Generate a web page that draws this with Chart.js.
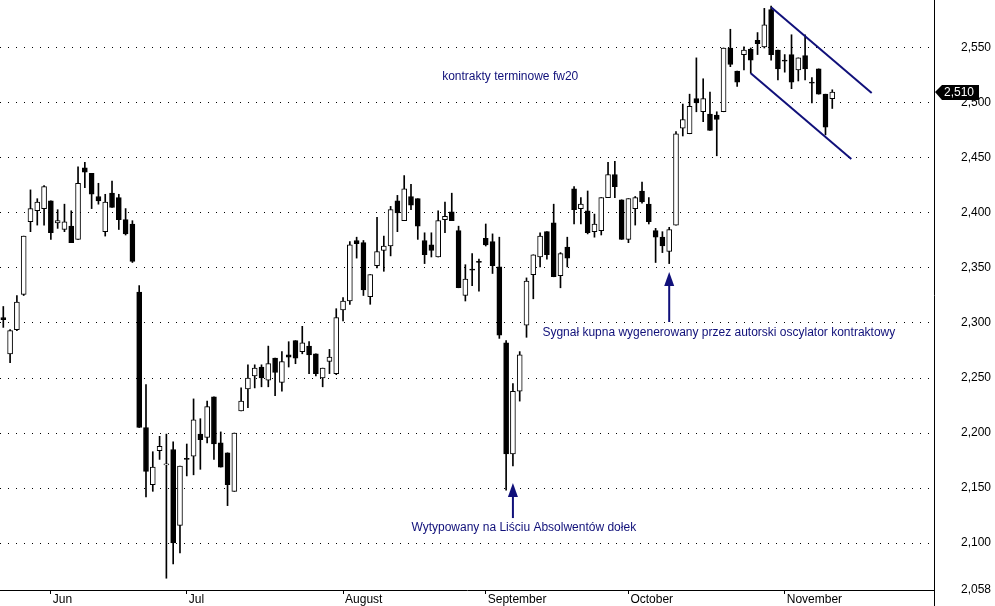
<!DOCTYPE html>
<html>
<head>
<meta charset="utf-8">
<script src="https://cdn.jsdelivr.net/npm/chart.js@4.4.0/dist/chart.umd.min.js"></script>
<style>
  html, body { margin: 0; padding: 0; background: #fff; }
</style>
</head>
<body>
<canvas id="chart" width="995" height="606"></canvas>
<script>
// dzienne świece fw20 (czerwiec - listopad)
const opens = [2305,2272,2294,2326,2392,2402,2404,2411,2391,2385,2388,2376,2441,2436,2415,2383,2418,2414,2394,2390,
  2328,2205,2153,2184,2171,2185,2116,2177,2179,2199,2196,2233,2191,2182,2147,2220,2240,2252,2260,2248,
  2268,2246,2271,2284,2274,2279,2272,2250,2265,2254,2312,2320,2375,2373,2324,2352,2366,2370,2411,2393,
  2415,2413,2375,2371,2360,2394,2401,2384,2325,2349,2356,2377,2374,2351,2282,2181,2238,2298,2344,2360,
  2383,2391,2343,2369,2422,2404,2402,2383,2384,2414,2435,2412,2376,2404,2420,2408,2384,2378,2365,2389,
  2477,2472,2504,2492,2490,2489,2492,2550,2529,2544,2549,2557,2551,2585,2548,2539,2544,2530,2543,2519,
  2531,2508,2504];
const highs = [2315,2294,2325,2379,2421,2413,2425,2411,2403,2408,2402,2442,2446,2436,2427,2417,2429,2417,2404,2393,
  2334,2244,2183,2197,2199,2192,2170,2190,2231,2213,2229,2233,2201,2182,2200,2241,2262,2262,2262,2279,
  2268,2274,2283,2284,2297,2283,2272,2259,2276,2313,2323,2374,2378,2375,2344,2396,2379,2406,2416,2434,
  2426,2413,2382,2382,2402,2410,2418,2388,2353,2363,2358,2390,2381,2378,2284,2245,2274,2341,2362,2382,
  2383,2408,2364,2378,2424,2414,2420,2399,2414,2446,2447,2412,2413,2415,2428,2414,2386,2383,2387,2474,
  2499,2508,2541,2522,2510,2492,2550,2567,2529,2551,2550,2564,2586,2588,2548,2544,2562,2541,2562,2523,
  2531,2508,2512];
const lows = [2296,2264,2293,2325,2383,2389,2389,2376,2386,2383,2373,2376,2423,2404,2408,2379,2405,2385,2380,2355,
  2205,2142,2147,2176,2068,2081,2091,2161,2162,2167,2191,2176,2169,2134,2147,2220,2223,2241,2242,2242,
  2234,2238,2260,2263,2272,2254,2252,2242,2254,2253,2302,2317,2359,2325,2317,2350,2347,2361,2383,2393,
  2403,2376,2354,2360,2360,2382,2393,2332,2320,2334,2329,2370,2345,2286,2148,2170,2229,2287,2322,2351,
  2358,2342,2332,2351,2390,2390,2381,2378,2380,2414,2414,2376,2373,2389,2409,2390,2355,2364,2354,2389,
  2470,2472,2492,2483,2475,2452,2492,2533,2515,2530,2527,2544,2550,2539,2521,2528,2513,2520,2521,2500,
  2508,2471,2495];
const closes = [2303,2293,2319,2379,2404,2410,2424,2382,2393,2392,2373,2427,2437,2417,2411,2410,2405,2394,2381,2356,
  2205,2165,2169,2188,2172,2100,2170,2176,2212,2194,2224,2190,2169,2153,2200,2229,2250,2259,2250,2263,
  2255,2265,2269,2268,2282,2271,2254,2259,2269,2305,2320,2371,2372,2330,2344,2365,2370,2403,2400,2422,
  2407,2388,2362,2366,2393,2397,2393,2332,2340,2348,2355,2371,2352,2289,2181,2238,2271,2338,2362,2379,
  2362,2342,2363,2359,2403,2408,2382,2390,2414,2435,2424,2376,2413,2414,2410,2392,2378,2370,2385,2472,
  2485,2497,2500,2504,2475,2485,2550,2535,2519,2548,2539,2554,2571,2544,2531,2538,2519,2541,2531,2518,
  2508,2478,2510];

const monthIndex = [7, 27, 50, 71, 92, 115];
const monthLabels = ['Jun', 'Jul', 'August', 'September', 'October', 'November'];
const priceTicks = [2058, 2100, 2150, 2200, 2250, 2300, 2350, 2400, 2450, 2500, 2550];

// kanał spadkowy
const upperChannel = [{ x: 113, y: 2587 }, { x: 127.8, y: 2509 }];
const lowerChannel = [{ x: 110, y: 2527 }, { x: 124.8, y: 2449 }];

const navy = '#10107a';

const notes = [
  { text: 'kontrakty terminowe fw20', x: 74.6, y: 2523.6 },
  { text: 'Sygnał kupna wygenerowany przez autorski oscylator kontraktowy', x: 105.3, y: 2290.9 },
  { text: 'Wytypowany na Liściu Absolwentów dołek', x: 76.6, y: 2113.6 }
];
const arrows = [
  { x: 75, from: 2122.7, to: 2154.5 },
  { x: 98, from: 2300.9, to: 2346.4 }
];

const extras = {
  id: 'extras',
  afterDraw(chart) {
    const ctx = chart.ctx;
    const xs = chart.scales.x, ys = chart.scales.y;
    const area = chart.chartArea;

    // oś cenowa do samego dołu
    ctx.save();
    ctx.strokeStyle = '#000';
    ctx.lineWidth = 1;
    ctx.beginPath();
    ctx.moveTo(Math.round(area.right) + 0.5, area.bottom);
    ctx.lineTo(Math.round(area.right) + 0.5, chart.height);
    ctx.stroke();

    ctx.font = '12px "Liberation Sans", Arial, sans-serif';
    ctx.fillStyle = navy;
    ctx.textAlign = 'center';
    ctx.textBaseline = 'middle';
    notes.forEach(n => {
      ctx.fillText(n.text, xs.getPixelForValue(n.x), ys.getPixelForValue(n.y));
    });

    arrows.forEach(a => {
      const x = xs.getPixelForValue(a.x);
      const y1 = ys.getPixelForValue(a.from);
      const y2 = ys.getPixelForValue(a.to);
      ctx.strokeStyle = navy;
      ctx.lineWidth = 2;
      ctx.beginPath();
      ctx.moveTo(x, y1);
      ctx.lineTo(x, y2 + 8);
      ctx.stroke();
      ctx.beginPath();
      ctx.moveTo(x, y2);
      ctx.lineTo(x - 5, y2 + 14);
      ctx.lineTo(x + 5, y2 + 14);
      ctx.closePath();
      ctx.fill();
    });

    // znacznik ostatniej ceny
    const last = closes[closes.length - 1];
    const py = Math.round(ys.getPixelForValue(last));
    const px = Math.round(area.right) + 1;
    ctx.fillStyle = '#000';
    ctx.beginPath();
    ctx.moveTo(px, py);
    ctx.lineTo(px + 7, py - 7);
    ctx.lineTo(px + 44, py - 7);
    ctx.lineTo(px + 44, py + 8);
    ctx.lineTo(px + 7, py + 8);
    ctx.closePath();
    ctx.fill();
    ctx.fillStyle = '#fff';
    ctx.textAlign = 'left';
    ctx.fillText(last.toLocaleString('en-US'), px + 9, py + 1);
    ctx.restore();
  }
};

const bodies = opens.map((o, i) => ({ x: i, y: [o, closes[i]] }));
const wicks = lows.map((l, i) => ({ x: i, y: [l, highs[i]] }));

new Chart(document.getElementById('chart'), {
  type: 'bar',
  data: {
    datasets: [
      {
        type: 'line',
        data: upperChannel,
        borderColor: navy,
        borderWidth: 2,
        pointRadius: 0,
        order: -1
      },
      {
        type: 'line',
        data: lowerChannel,
        borderColor: navy,
        borderWidth: 2,
        pointRadius: 0,
        order: -1
      },
      {
        data: bodies,
        backgroundColor: opens.map((o, i) => closes[i] >= o ? '#fff' : '#000'),
        borderColor: '#000',
        borderWidth: 1,
        borderSkipped: false,
        barThickness: 5,
        grouped: false,
        order: 0
      },
      {
        data: wicks,
        backgroundColor: '#000',
        borderWidth: 0,
        barThickness: 1,
        grouped: false,
        order: 1
      }
    ]
  },
  options: {
    responsive: false,
    animation: false,
    devicePixelRatio: 1,
    layout: { padding: 0 },
    plugins: {
      legend: { display: false },
      tooltip: { enabled: false }
    },
    scales: {
      x: {
        type: 'linear',
        position: 'bottom',
        offset: false,
        min: -0.486,
        max: 136.97,
        afterBuildTicks: s => { s.ticks = monthIndex.map(v => ({ value: v })); },
        afterFit: s => {
          s.height = 16;
          s.paddingLeft = 0;
          s.paddingRight = 0;
        },
        grid: {
          offset: false,
          drawOnChartArea: false,
          drawTicks: true,
          tickLength: 4,
          color: '#000'
        },
        border: { color: '#000', width: 1 },
        ticks: {
          autoSkip: false,
          maxRotation: 0,
          align: 'start',
          labelOffset: 2,
          padding: -2,
          color: '#000',
          font: { family: '"Liberation Sans", Arial, sans-serif', size: 12 },
          callback: (v, i) => monthLabels[i]
        }
      },
      y: {
        position: 'right',
        min: 2057.3,
        max: 2593.6,
        afterBuildTicks: s => { s.ticks = priceTicks.map(v => ({ value: v })); },
        afterFit: s => {
          s.width = 61;
          s.paddingTop = 0;
          s.paddingBottom = 0;
        },
        grid: {
          drawTicks: false,
          color: c => (c.tick && c.tick.value === 2058) ? 'rgba(0,0,0,0)' : '#000'
        },
        border: { color: '#000', width: 1, dash: [1, 7] },
        ticks: {
          padding: 27,
          color: '#000',
          font: { family: '"Liberation Sans", Arial, sans-serif', size: 12 },
          callback: v => v.toLocaleString('en-US')
        }
      }
    }
  },
  plugins: [extras]
});
</script>
</body>
</html>
